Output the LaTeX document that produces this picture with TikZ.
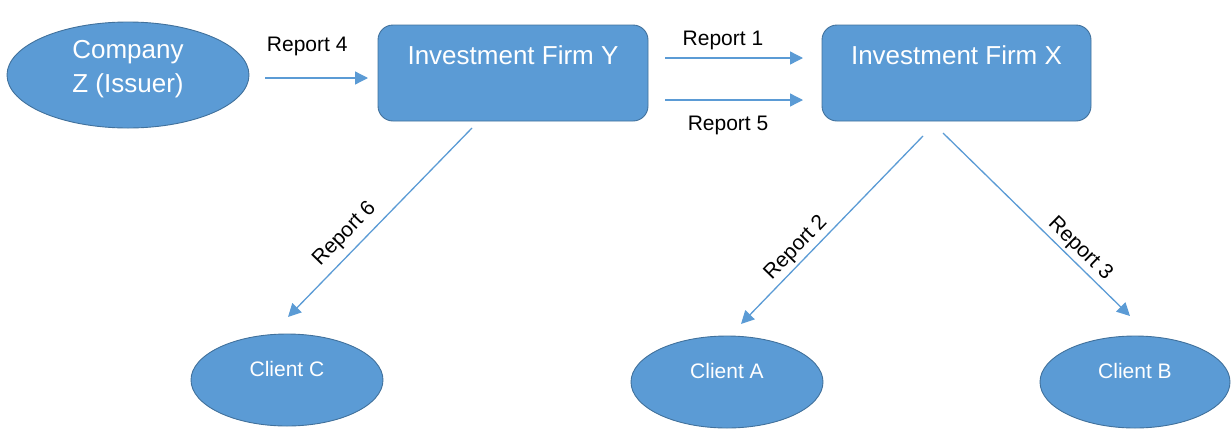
\documentclass[tikz,border=0pt]{standalone}
\usepackage{fontspec}
\setmainfont{Liberation Sans}
\usetikzlibrary{arrows.meta,shapes.geometric}
\definecolor{shapeblue}{HTML}{5B9BD5}
\definecolor{edgeblue}{HTML}{41719C}
\begin{document}
\begin{tikzpicture}[x=1pt,y=-1pt,
  blob/.style={ellipse, fill=shapeblue, draw=edgeblue, line width=0.9pt, inner sep=0pt, text=white},
  firm/.style={rectangle, rounded corners=15pt, fill=shapeblue, draw=edgeblue, line width=0.9pt,
    minimum width=270pt, inner sep=0pt, text=white, font=\fontsize{26}{30}\selectfont,
    text height=39pt, text depth=57pt},
  client/.style={blob, minimum width=192pt, minimum height=92pt, font=\fontsize{21}{25}\selectfont,
    text height=15pt, text depth=23pt},
  bigtext/.style={text=white, font=\fontsize{26}{34}\selectfont, align=center, inner sep=0pt},
  arr/.style={draw=shapeblue, line width=1.3pt, -{Triangle[length=13pt,width=13pt]}},
  lab/.style={font=\fontsize{21}{25}\selectfont, inner sep=0pt, text=black}]
\useasboundingbox (0,0) rectangle (1231,429);

% shapes
\node[blob, minimum width=242pt, minimum height=106pt] (Z) at (128,75) {};
\node[bigtext, anchor=north] (Ztext) at (128,40.5) {Company\\Z (Issuer)};
\node[firm] (Y) at (513,73) {Investment Firm Y};
\node[firm, minimum width=269pt] (X) at (956.5,73) {Investment Firm X};
\node[client] (C) at (287,380) {Client C};
\node[client] (A) at (727,382) {Client A};
\node[client, minimum width=190pt] (B) at (1135,382) {Client B};

% connector ends
\coordinate (r4s) at (265,78);  \coordinate (r4e) at (368,78);
\coordinate (r1s) at (665,58);  \coordinate (r1e) at (803,58);
\coordinate (r5s) at (665,100); \coordinate (r5e) at (803,100);
\coordinate (r6s) at (472,128); \coordinate (r6e) at (288,317);
\coordinate (r2s) at (923,136); \coordinate (r2e) at (741,324);
\coordinate (r3s) at (943,133); \coordinate (r3e) at (1130,316);

% connectors
\draw[arr] (r4s) -- node[lab, pos=0.41, above=21.6pt] {Report 4} (r4e);
\draw[arr] (r1s) -- node[lab, pos=0.42, above=7.6pt] {Report 1} (r1e);
\draw[arr] (r5s) -- node[lab, pos=0.457, below=15.7pt] {Report 5} (r5e);
\draw[arr] (r6s) -- node[lab, pos=0.625, sloped, above=7pt] {Report 6} (r6e);
\draw[arr] (r2s) -- node[lab, pos=0.645, sloped, above=3pt] {Report 2} (r2e);
\draw[arr] (r3s) -- node[lab, pos=0.685, sloped, above=2.5pt] {Report 3} (r3e);
\end{tikzpicture}
\end{document}
